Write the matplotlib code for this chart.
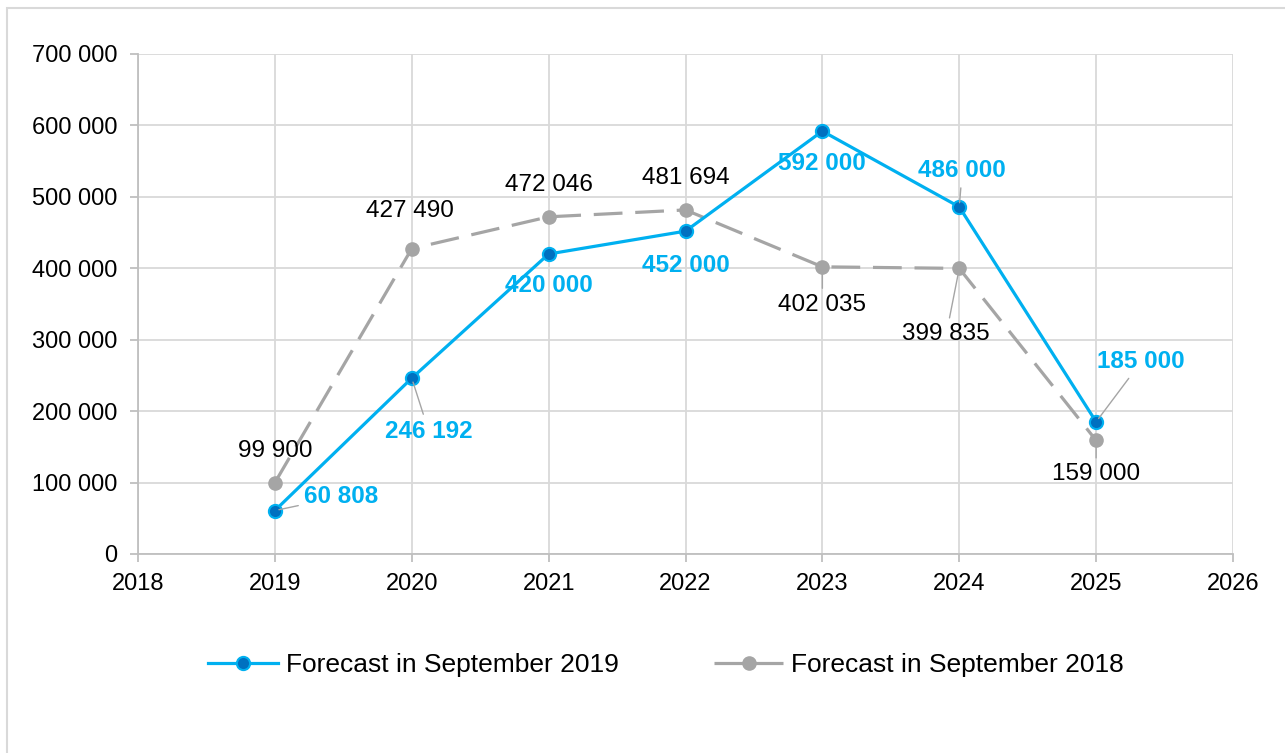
import matplotlib
matplotlib.use("Agg")
import matplotlib.pyplot as plt
from matplotlib.patches import Rectangle
from matplotlib.ticker import FuncFormatter, MultipleLocator

years = [2019, 2020, 2021, 2022, 2023, 2024, 2025]
forecast_2019 = [60808, 246192, 420000, 452000, 592000, 486000, 185000]
forecast_2018 = [99900, 427490, 472046, 481694, 402035, 399835, 159000]
series_names = ["Forecast in September 2019", "Forecast in September 2018"]

BLUE = "#00b0f0"
DBLUE = "#0070c0"
GREY = "#a5a5a5"

plt.rcParams['font.family'] = ['Liberation Sans', 'DejaVu Sans']

W, H = 1285, 753
fig = plt.figure(figsize=(W / 100, H / 100), dpi=100)
fig.add_artist(Rectangle((7 / W, -0.1), 1.2, (753 - 8) / H + 0.1,
                         transform=fig.transFigure, fill=False,
                         edgecolor="#d9d9d9", linewidth=1.5, clip_on=False))

ax = fig.add_axes([138 / W, 1 - 554 / H, (1233 - 138) / W, 500 / H])
ax.set_xlim(2018, 2026)
ax.set_ylim(0, 700000)
ax.xaxis.set_major_locator(MultipleLocator(1))
ax.yaxis.set_major_locator(MultipleLocator(100000))
ax.yaxis.set_major_formatter(FuncFormatter(lambda v, p: f"{int(v):,}".replace(",", " ")))
ax.grid(True, color="#d9d9d9", linewidth=1.3)
ax.set_axisbelow(True)
for s in ["top", "right"]:
    ax.spines[s].set_visible(False)
for s in ["left", "bottom"]:
    ax.spines[s].set_color("#bfbfbf")
    ax.spines[s].set_linewidth(1.3)
ax.tick_params(axis="both", colors="#bfbfbf", labelcolor="black", labelsize=17,
               length=6, width=1.3)
ax.tick_params(axis="y", pad=9)
ax.tick_params(axis="x", pad=8)

l1, = ax.plot(years, forecast_2019, color=BLUE, linewidth=2.3, marker="o",
              markersize=9.5, markerfacecolor=DBLUE, markeredgecolor=BLUE,
              markeredgewidth=1.5, zorder=4, label=series_names[0])
l2, = ax.plot(years, forecast_2018, color=GREY, linewidth=2.3, dashes=(9, 4),
              marker="o", markersize=9.5, markerfacecolor=GREY,
              markeredgecolor=GREY, zorder=3, label=series_names[1])

def fmt(v):
    return f"{v:,}".replace(",", " ")

blue_offsets = [(66, 14), (17, -53), (0, -32), (0, -34), (0, -32), (3, 36), (45, 60)]
blue_leader = [True, True, False, False, False, True, True]
grey_offsets = [(0, 32), (-2, 38), (0, 32), (0, 32), (0, -38), (-13, -66), (0, -34)]
grey_leader = [False, False, False, False, True, True, True]

leader_props = dict(arrowstyle="-", color=GREY, linewidth=1.0, shrinkA=2, shrinkB=3)

for x, v, off, ld in zip(years, forecast_2019, blue_offsets, blue_leader):
    ax.annotate(fmt(v), (x, v), xytext=off, textcoords="offset pixels",
                ha="center", va="center", fontsize=17.5, fontweight="bold",
                color=BLUE, zorder=6,
                arrowprops=leader_props if ld else None)

for x, v, off, ld in zip(years, forecast_2018, grey_offsets, grey_leader):
    ax.annotate(fmt(v), (x, v), xytext=off, textcoords="offset pixels",
                ha="center", va="center", fontsize=17.5, color="black", zorder=6,
                arrowprops=leader_props if ld else None)

fig.legend(handles=[l1, l2], loc="center", bbox_to_anchor=(666 / W, 1 - 665 / H),
           ncol=2, frameon=False, fontsize=19, handlelength=2.65,
           columnspacing=3.6, handletextpad=0.3)

fig.savefig("out.png", dpi=100)
